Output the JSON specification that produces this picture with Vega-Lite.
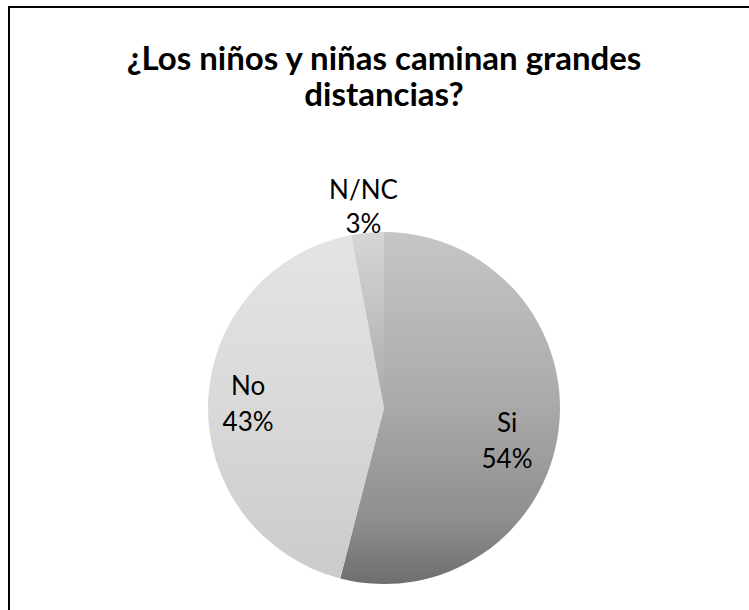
{
  "$schema": "https://vega.github.io/schema/vega-lite/v6.json",
  "autosize": "none",
  "padding": {"left": 9, "top": 7, "right": 0, "bottom": 0},
  "width": 750,
  "height": 802,
  "background": "white",
  "view": {"stroke": "black", "strokeWidth": 2, "fill": "white"},
  "title": {
    "text": ["¿Los niños y niñas caminan grandes", "distancias?"],
    "font": "Lato",
    "fontSize": 33,
    "fontWeight": "bold",
    "color": "black",
    "lineHeight": 36,
    "anchor": "middle",
    "baseline": "top",
    "offset": -106
  },
  "data": {
    "values": [
      {"cat": "Si", "value": 54, "label": "Si\n54%"},
      {"cat": "No", "value": 43, "label": "No\n43%"},
      {"cat": "N/NC", "value": 3, "label": "N/NC\n3%"}
    ]
  },
  "encoding": {
    "theta": {"field": "value", "type": "quantitative", "stack": true},
    "order": {"field": "value", "type": "quantitative", "sort": "descending"}
  },
  "layer": [
    {
      "mark": {"type": "arc", "radius": 176, "strokeWidth": 0},
      "encoding": {
        "fill": {
          "condition": [
            {"test": "datum.cat === 'Si'", "value": {"gradient": "linear", "x1": 0, "y1": 0, "x2": 0, "y2": 1, "stops": [{"offset": 0, "color": "#c6c6c6"}, {"offset": 0.5, "color": "#a9a9a9"}, {"offset": 0.82, "color": "#8e8e8e"}, {"offset": 1, "color": "#6e6e6e"}]}},
            {"test": "datum.cat === 'No'", "value": {"gradient": "linear", "x1": 0, "y1": 0, "x2": 0, "y2": 1, "stops": [{"offset": 0, "color": "#e4e4e4"}, {"offset": 0.5, "color": "#d9d9d9"}, {"offset": 1, "color": "#cbcbcb"}]}}
          ],
          "value": {"gradient": "linear", "x1": 0, "y1": 0, "x2": 0, "y2": 1, "stops": [{"offset": 0, "color": "#d6d6d6"}, {"offset": 1, "color": "#aaaaaa"}]}
        }
      }
    },
    {
      "mark": {"type": "text", "radius": 124, "font": "Lato", "fontSize": 26, "lineHeight": 36, "lineBreak": "\n", "color": "black", "baseline": "middle", "align": "center"},
      "encoding": {
        "text": {"condition": {"test": "datum.cat === 'Si'", "field": "label"}, "value": ""}
      }
    },
    {
      "mark": {"type": "text", "radius": 136, "dy": -17, "font": "Lato", "fontSize": 26, "lineHeight": 36, "lineBreak": "\n", "color": "black", "baseline": "middle", "align": "center"},
      "encoding": {
        "text": {"condition": {"test": "datum.cat === 'No'", "field": "label"}, "value": ""}
      }
    },
    {
      "mark": {"type": "text", "radius": 218, "font": "Lato", "fontSize": 26, "lineHeight": 34, "lineBreak": "\n", "color": "black", "baseline": "middle", "align": "center"},
      "encoding": {
        "text": {"condition": {"test": "datum.cat === 'N/NC'", "field": "label"}, "value": ""}
      }
    }
  ],
  "config": {
    "view": {"stroke": "black", "strokeWidth": 2}
  }
}
